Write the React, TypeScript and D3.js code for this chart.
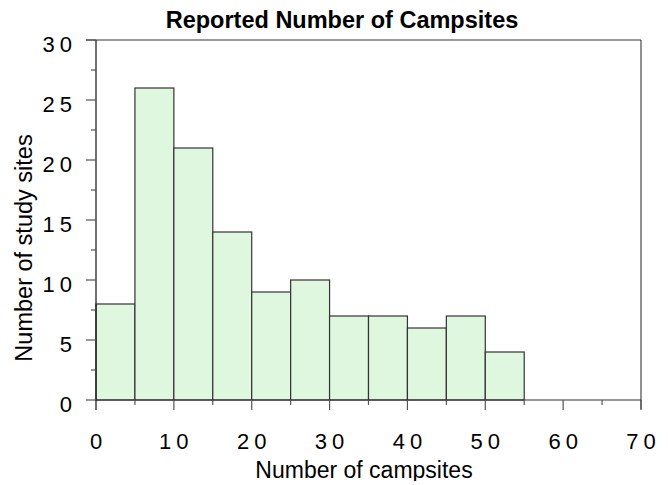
import { useEffect, useRef } from "react";
import * as d3 from "d3";

// bin edges (lower bound) and counts
const binStarts = [0, 5, 10, 15, 20, 25, 30, 35, 40, 45, 50, 55, 60, 65];
const binWidth = 5;
const counts = [8, 26, 21, 14, 9, 10, 7, 7, 6, 7, 4, 0, 0, 0];
const xTicks = [0, 10, 20, 30, 40, 50, 60, 70];
const yTicks = [0, 5, 10, 15, 20, 25, 30];

const App = () => {
  const svgRef = useRef<SVGSVGElement>(null);

  useEffect(() => {
    if (!svgRef.current) return;
    const width = 668;
    const height = 485;
    const left = 96;
    const right = 641;
    const top = 40;
    const bottom = 400;
    const spacing = 5;

    const svg = d3.select(svgRef.current);
    svg.selectAll("*").remove();
    svg.attr("width", width).attr("height", height).style("font-family", "Arial, 'Liberation Sans', sans-serif");

    const x = d3.scaleLinear().domain([0, 70]).range([left, right]);
    const y = d3.scaleLinear().domain([0, 30]).range([bottom, top]);

    // frame: top gray line, right black line
    svg.append("line").attr("x1", left - 10).attr("x2", right).attr("y1", top).attr("y2", top)
      .attr("stroke", "#777").attr("stroke-width", 1.3);
    svg.append("line").attr("x1", right).attr("x2", right).attr("y1", top).attr("y2", bottom + 9)
      .attr("stroke", "#222").attr("stroke-width", 1);

    // bars
    svg.append("g")
      .selectAll("rect")
      .data(binStarts)
      .join("rect")
      .attr("x", (d) => x(d))
      .attr("width", (d) => x(d + binWidth) - x(d))
      .attr("y", (d, i) => y(counts[i]))
      .attr("height", (d, i) => y(0) - y(counts[i]))
      .attr("fill", (d, i) => (counts[i] > 0 ? "#dff7df" : "none"))
      .attr("stroke", "#333")
      .attr("stroke-width", 1.2);

    // y axis
    const yAxis = svg.append("g");
    yAxis.append("line").attr("x1", left).attr("x2", left).attr("y1", top).attr("y2", bottom)
      .attr("stroke", "#111").attr("stroke-width", 1.2);
    d3.range(0, 30.1, 2.5).forEach((v) => {
      const major = v % 5 === 0;
      yAxis.append("line")
        .attr("x1", major ? left - 10 : left - 5).attr("x2", left)
        .attr("y1", y(v)).attr("y2", y(v))
        .attr("stroke", "#555").attr("stroke-width", 1.2);
    });
    yAxis.selectAll("text.tick")
      .data(yTicks)
      .join("text")
      .attr("class", "tick")
      .attr("x", 72 + spacing)
      .attr("y", (d) => y(d) + 12.4)
      .attr("text-anchor", "end")
      .style("font-size", "22px")
      .style("letter-spacing", `${spacing}px`)
      .text((d) => d);

    // x axis
    const xAxis = svg.append("g");
    xAxis.append("line").attr("x1", left).attr("x2", right).attr("y1", bottom).attr("y2", bottom)
      .attr("stroke", "#333").attr("stroke-width", 1.2);
    d3.range(0, 70.1, 5).forEach((v) => {
      const major = v % 10 === 0;
      xAxis.append("line")
        .attr("x1", x(v)).attr("x2", x(v))
        .attr("y1", bottom).attr("y2", major ? bottom + 10 : bottom + 5)
        .attr("stroke", v === 0 ? "#111" : "#555").attr("stroke-width", 1.2);
    });
    xAxis.selectAll("text.tick")
      .data(xTicks)
      .join("text")
      .attr("class", "tick")
      .attr("x", (d) => x(d) + spacing / 2)
      .attr("y", 449)
      .attr("text-anchor", "middle")
      .style("font-size", "22px")
      .style("letter-spacing", `${spacing}px`)
      .text((d) => d);

    // titles
    svg.append("text")
      .attr("x", 342)
      .attr("y", 28)
      .attr("text-anchor", "middle")
      .style("font-size", "23.5px")
      .style("font-weight", "bold")
      .text("Reported Number of Campsites");

    svg.append("text")
      .attr("x", 364)
      .attr("y", 478)
      .attr("text-anchor", "middle")
      .style("font-size", "23px")
      .text("Number of campsites");

    svg.append("text")
      .attr("transform", "translate(32, 248) rotate(-90)")
      .attr("text-anchor", "middle")
      .style("font-size", "23.5px")
      .text("Number of study sites");
  }, []);

  return (
    <div style={{ margin: "-8px" }}>
      <svg ref={svgRef}></svg>
    </div>
  );
};

export default App;
